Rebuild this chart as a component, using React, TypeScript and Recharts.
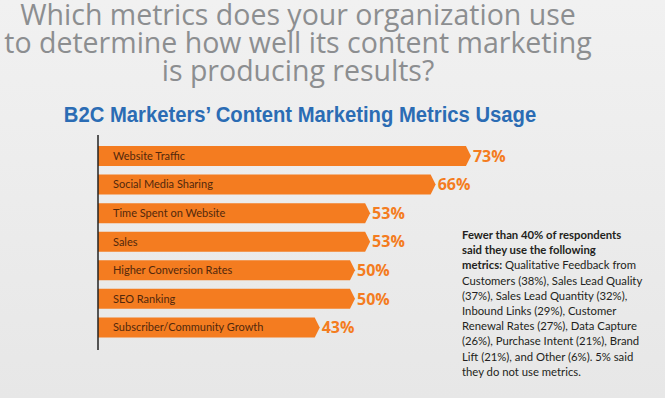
import React from 'react'
import { BarChart, Bar, XAxis, YAxis, ReferenceLine, LabelList } from 'recharts'

const titleLines = [
  'Which metrics does your organization use',
  'to determine how well its content marketing',
  'is producing results?',
]

const metrics = [
  'Website Traffic',
  'Social Media Sharing',
  'Time Spent on Website',
  'Sales',
  'Higher Conversion Rates',
  'SEO Ranking',
  'Subscriber/Community Growth',
]
const usage = [73, 66, 53, 53, 50, 50, 43]

const data = metrics.map((name, i) => ({ name, value: usage[i] }))

const ORANGE = '#f47c20'

// bar body with a small arrow tip on the right end
function ArrowBar(props: any) {
  const { x, y, width, height, fill } = props
  const tip = 5
  const d = `M${x},${y} H${x + width} L${x + width + tip},${y + height / 2} L${x + width},${y + height} H${x} Z`
  return <path d={d} fill={fill} />
}

// category name written inside the bar, no wrapping
function NameLabel(props: any) {
  const { x, y, height, value } = props
  return (
    <text
      x={x + 15}
      y={y + height / 2}
      dy="0.35em"
      fill="#52280c"
      style={{ fontFamily: 'Lato, sans-serif', fontSize: 11 }}
    >
      {value}
    </text>
  )
}

export default function App() {
  return (
    <div
      style={{
        position: 'absolute',
        left: 0,
        top: 0,
        width: 665,
        height: 398,
        overflow: 'hidden',
        background: 'linear-gradient(#f1f1f1, #e7e7e7)',
      }}
    >
      {titleLines.map((line, i) => (
        <div
          key={i}
          style={{
            position: 'absolute',
            left: 0,
            top: i * 28,
            width: 596,
            height: 28,
            textAlign: 'center',
            fontFamily: '"Open Sans", sans-serif',
            fontSize: 28.5,
            lineHeight: '28px',
            color: '#8c8e90',
            whiteSpace: 'nowrap',
          }}
        >
          {line}
        </div>
      ))}
      <div
        style={{
          position: 'absolute',
          left: 0,
          top: 102,
          width: 600,
          textAlign: 'center',
          fontFamily: '"Liberation Sans", Arial, sans-serif',
          fontWeight: 700,
          fontSize: 22,
          color: '#2b6cb4',
          transform: 'scaleX(0.92)',
          transformOrigin: '300px 0',
        }}
      >
        B2C Marketers’ Content Marketing Metrics Usage
      </div>
      <div style={{ position: 'absolute', left: 0, top: 0 }}>
        <BarChart
          width={665}
          height={398}
          data={data}
          layout="vertical"
          margin={{ top: 135, right: 63, bottom: 48, left: 98 }}
          barSize={20}
        >
          <XAxis type="number" domain={[0, 100]} hide />
          <YAxis type="category" dataKey="name" hide padding={{ top: 7, bottom: 8 }} />
          <Bar dataKey="value" fill={ORANGE} shape={<ArrowBar />} isAnimationActive={false}>
            <LabelList dataKey="name" content={<NameLabel />} />
            <LabelList
              dataKey="value"
              position="right"
              offset={7}
              formatter={(v: any) => `${v}%`}
              fill={ORANGE}
              style={{ fontFamily: '"Open Sans", sans-serif', fontSize: 16, fontWeight: 700 }}
            />
          </Bar>
          <ReferenceLine x={0} stroke="#222" strokeWidth={1.5} />
        </BarChart>
      </div>
      <div
        style={{
          position: 'absolute',
          left: 462,
          top: 227,
          fontFamily: 'Lato, sans-serif',
          fontSize: 11.3,
          lineHeight: '15.2px',
          color: '#231f20',
          whiteSpace: 'nowrap',
        }}
      >
        <b>Fewer than 40% of respondents</b>
        <br />
        <b>said they use the following</b>
        <br />
        <b>metrics:</b> Qualitative Feedback from
        <br />
        Customers (38%), Sales Lead Quality
        <br />
        (37%), Sales Lead Quantity (32%),
        <br />
        Inbound Links (29%), Customer
        <br />
        Renewal Rates (27%), Data Capture
        <br />
        (26%), Purchase Intent (21%), Brand
        <br />
        Lift (21%), and Other (6%). 5% said
        <br />
        they do not use metrics.
      </div>
    </div>
  )
}
